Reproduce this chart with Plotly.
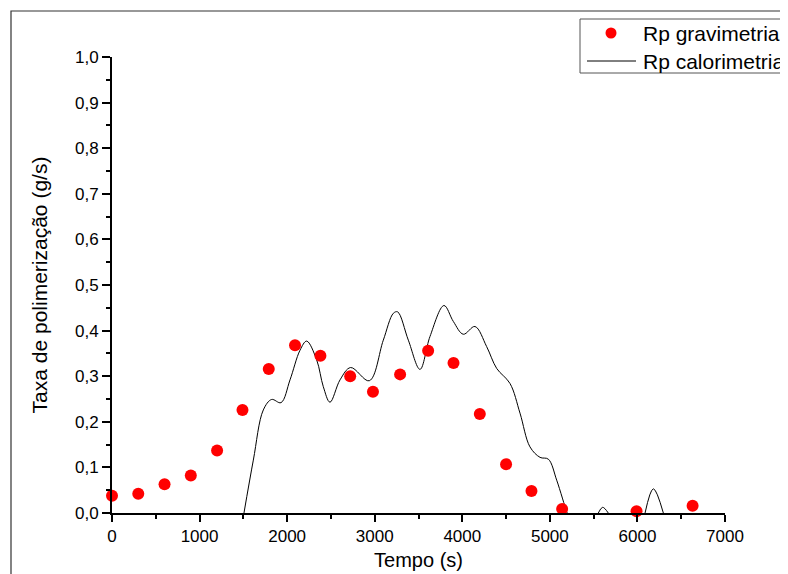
import plotly.graph_objects as go

# Rp gravimetria (pontos)
grav_t = [0, 300, 600, 900, 1200, 1490, 1790, 2090, 2380, 2720, 2980,
          3290, 3610, 3900, 4200, 4500, 4790, 5140, 5410, 5990, 6630]
grav_rp = [0.038, 0.042, 0.063, 0.082, 0.137, 0.226, 0.316, 0.368, 0.345, 0.300, 0.266,
           0.304, 0.356, 0.329, 0.217, 0.107, 0.048, 0.009, -0.003, 0.004, 0.016]

# Rp calorimetria (linha, None = trecho abaixo de zero)
cal_t = [1507, 1614, 1728, 1823, 1930, 2033, 2147, 2223, 2337, 2413, 2489, 2604,
         2725, 2938, 3098, 3213, 3262, 3384, 3517, 3631, 3791, 3898, 4012, 4145,
         4278, 4393, 4545, 4659, 4773, 4888, 4983, 5078, 5192, 5200,
         None, 5553, 5603, 5667, None, 6087, 6182, 6296]
cal_rp = [0.0, 0.116, 0.226, 0.249, 0.242, 0.292, 0.357, 0.377, 0.336, 0.277, 0.243, 0.292,
          0.319, 0.290, 0.379, 0.438, 0.441, 0.379, 0.315, 0.387, 0.455, 0.420, 0.392, 0.409,
          0.365, 0.317, 0.284, 0.219, 0.145, 0.122, 0.118, 0.072, 0.003, 0.0,
          None, 0.0, 0.0125, 0.0, None, 0.0, 0.053, 0.0]

legend_names = ["Rp gravimetria", "Rp calorimetria"]

font = "Liberation Sans, Arial, sans-serif"

# area do grafico (px) - a pagina tem margem de 8px no body
L, T, W, H = 104, 49, 613, 456
FIG_W, FIG_H = 780, 566


def px(xp):
    return (xp - 8 - L) / W


def py(yp):
    return (T + H - (yp - 8)) / H


fig = go.Figure()
fig.add_trace(go.Scatter(
    x=cal_t, y=cal_rp, mode="lines", name=legend_names[1],
    line=dict(color="black", width=1, shape="spline", smoothing=1.0),
    connectgaps=False, showlegend=False))
fig.add_trace(go.Scatter(
    x=grav_t, y=grav_rp, mode="markers", name=legend_names[0],
    marker=dict(color="#ff0000", size=12, line=dict(width=0)),
    cliponaxis=False, showlegend=False))

axis_common = dict(showgrid=False, zeroline=False, showline=True, linecolor="black",
                   linewidth=2, ticks="outside", tickcolor="black", tickwidth=1.5,
                   tickfont=dict(family=font, size=17, color="black"))

fig.update_xaxes(range=[0, 7000], dtick=1000, tickformat="d", ticklen=7,
                 minor=dict(dtick=500, ticks="outside", ticklen=4, tickcolor="black", tickwidth=1.5),
                 title=dict(text="Tempo (s)", font=dict(family=font, size=20, color="black"), standoff=8),
                 **axis_common)
fig.update_yaxes(range=[0, 1.0], dtick=0.1, tickformat=".1f", ticklen=8,
                 minor=dict(dtick=0.05, ticks="outside", ticklen=4, tickcolor="black", tickwidth=1.5),
                 title=dict(text="Taxa de polimerização (g/s)", font=dict(family=font, size=21, color="black"), standoff=22),
                 **axis_common)

# moldura externa
fig.add_shape(type="rect", xref="paper", yref="paper",
              x0=px(11), x1=px(800), y0=py(590), y1=py(11),
              line=dict(color="#333333", width=1.2), fillcolor="rgba(0,0,0,0)")

# legenda desenhada a mao (caixa, simbolos e textos)
fig.add_shape(type="rect", xref="paper", yref="paper",
              x0=px(580), x1=px(800), y0=py(73), y1=py(19),
              line=dict(color="#555555", width=1), fillcolor="white")
fig.add_shape(type="circle", xref="paper", yref="paper",
              x0=px(605.5), x1=px(616.5), y0=py(38.5), y1=py(27.5),
              line=dict(width=0), fillcolor="#ff0000")
fig.add_shape(type="line", xref="paper", yref="paper",
              x0=px(587), x1=px(636), y0=py(61), y1=py(61),
              line=dict(color="black", width=1))
for name, yp in zip(legend_names, [33, 61]):
    fig.add_annotation(text=name, xref="paper", yref="paper", x=px(641), y=py(yp + 1),
                       xanchor="left", yanchor="middle", showarrow=False,
                       font=dict(family=font, size=21, color="black"))

fig.update_layout(
    width=FIG_W, height=FIG_H,
    margin=dict(l=L, r=FIG_W - L - W, t=T, b=FIG_H - T - H, autoexpand=False),
    paper_bgcolor="white", plot_bgcolor="white",
    separators=",.",
    font=dict(family=font, color="black"),
    showlegend=False,
)

fig.write_html("out.html", default_width=f"{FIG_W}px", default_height=f"{FIG_H}px")
